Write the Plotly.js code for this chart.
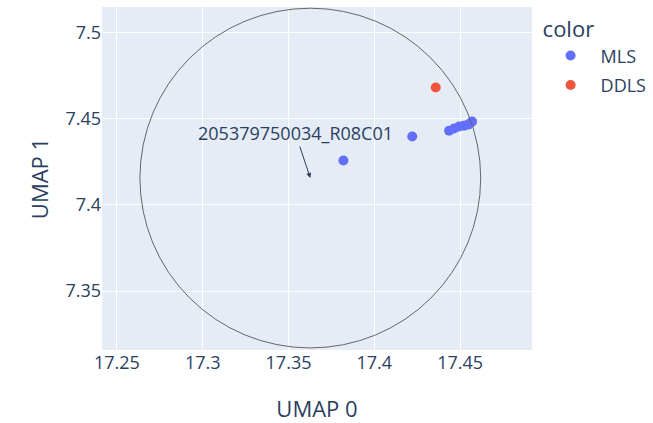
<!DOCTYPE html>
<html>
<head>
<meta charset="utf-8">
<script src="https://cdn.plot.ly/plotly-3.0.1.min.js"></script>
<style>html,body{margin:0;padding:0;}#chart{width:653px;height:423px;}</style>
</head>
<body>
<div id="chart"></div>
<script>
// Data
const mlsX = [17.382, 17.4221, 17.4436, 17.4465, 17.4494, 17.4523, 17.4547, 17.4564, 17.457];
const mlsY = [7.4257, 7.4396, 7.4430, 7.4442, 7.4454, 7.4459, 7.4465, 7.4477, 7.4483];
const ddlsX = [17.4358];
const ddlsY = [7.468];
const circleCenter = [17.3627, 7.4155];
const circleRadius = [0.0993, 0.0985];
const annotationLabel = "205379750034_R08C01";
const xTicks = [17.25, 17.3, 17.35, 17.4, 17.45];
const yTicks = [7.35, 7.4, 7.45, 7.5];

const traces = [
  {type: 'scatter', mode: 'markers', name: 'MLS', legendgroup: 'MLS', x: mlsX, y: mlsY,
   marker: {color: '#636efa', size: 10}},
  {type: 'scatter', mode: 'markers', name: 'DDLS', legendgroup: 'DDLS', x: ddlsX, y: ddlsY,
   marker: {color: '#EF553B', size: 10}}
];

const layout = {
  width: 653, height: 423,
  margin: {l: 102, r: 121, t: 7, b: 73, autoexpand: false},
  paper_bgcolor: 'white', plot_bgcolor: '#E5ECF6',
  font: {family: '"Open Sans", verdana, arial, sans-serif', size: 18, color: '#2a3f5f'},
  xaxis: {range: [17.2413, 17.4919], tickvals: xTicks, ticktext: xTicks.map(String),
          gridcolor: 'white', zeroline: false, title: {text: 'UMAP 0'}},
  yaxis: {range: [7.3158, 7.5147], tickvals: yTicks, ticktext: yTicks.map(String),
          gridcolor: 'white', zeroline: false, title: {text: 'UMAP 1'}},
  legend: {title: {text: 'color'}, tracegroupgap: 3, itemwidth: 50, y: 0.995},
  shapes: [{type: 'circle', xref: 'x', yref: 'y',
            x0: circleCenter[0] - circleRadius[0], x1: circleCenter[0] + circleRadius[0],
            y0: circleCenter[1] - circleRadius[1], y1: circleCenter[1] + circleRadius[1],
            line: {color: '#666', width: 1}}],
  annotations: [{x: circleCenter[0], y: circleCenter[1], xref: 'x', yref: 'y',
                 text: annotationLabel, showarrow: true, arrowhead: 2, arrowcolor: '#2a3f5f',
                 arrowwidth: 1, ax: -15, ay: -45, font: {size: 18, color: '#2a3f5f'}}]
};

Plotly.newPlot('chart', traces, layout, {displayModeBar: false});
</script>
</body>
</html>
